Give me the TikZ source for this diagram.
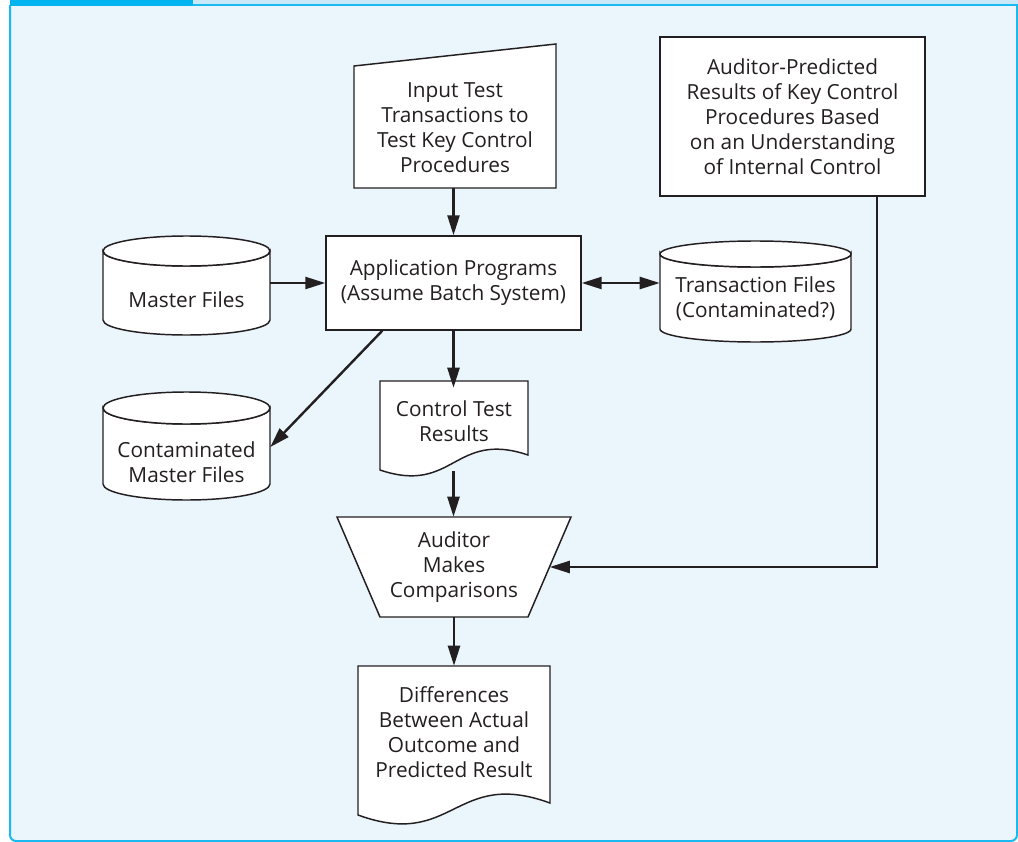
\documentclass[tikz,border=0pt]{standalone}
\usepackage{fontspec}
\setmainfont{Open Sans}
\usetikzlibrary{arrows.meta,calc}
\definecolor{ink}{HTML}{231F20}
\definecolor{bgfill}{HTML}{EAF5FC}
\definecolor{framec}{HTML}{1AB9F0}
\definecolor{tabc}{HTML}{00B4F0}
\definecolor{stripc}{HTML}{C9E9F8}
\newcommand\drawcyl[5]{% x1, x2, top-centre y, bottom-centre y, ry (px)
  \pgfmathsetmacro\cylrx{(#2-#1)/2*0.75}%
  \pgfmathsetmacro\cylry{#5*0.75}%
  \pgfmathsetmacro\cylxc{(#1+#2)/2}%
  \draw[shapeline] (#1,#3) -- (#1,#4) arc[start angle=180,end angle=360,x radius=\cylrx pt,y radius=\cylry pt] -- (#2,#3) arc[start angle=0,end angle=-180,x radius=\cylrx pt,y radius=\cylry pt] -- cycle;
  \draw[shapeline] (\cylxc,#3) ellipse[x radius=\cylrx pt,y radius=\cylry pt];
}
\begin{document}
\begin{tikzpicture}[x=0.75pt,y=-0.75pt,
  shapeline/.style={draw=ink,line width=1.1pt,fill=white},
  txt/.style={align=center,text=ink,font=\fontsize{15.6pt}{18.75pt}\selectfont,inner sep=0pt},
  boxnode/.style={txt,shapeline},
  conn/.style={draw=ink,line width=1.8pt,-{Triangle[length=15pt,width=9pt]}},
  dconn/.style={draw=ink,line width=1.8pt,{Triangle[length=15pt,width=9pt]}-{Triangle[length=15pt,width=9pt]}}]
\useasboundingbox (0,0) rectangle (1018,842);
% frame
\fill[bgfill,rounded corners=4.5pt] (10,0) -- (10,841) -- (1017,841) -- (1017,0) -- cycle;
\draw[framec,line width=1.5pt,rounded corners=4.5pt] (10,5) -- (10,841) -- (1017,841) -- (1017,5);
\fill[stripc] (193,0) rectangle (1018,4);
\draw[framec,line width=1.5pt] (10,5) -- (1018,5);
\fill[tabc] (10,0) rectangle (193,6);
% shapes
\draw[shapeline] (354,66) -- (556,44) -- (556,188) -- (354,188) -- cycle;
\drawcyl{103}{270}{251}{320}{15}
\drawcyl{660}{851}{254}{329}{13}
\drawcyl{103}{270}{408}{484}{16}
\draw[shapeline] (380,381) -- (528,381) -- (528,455) .. controls (454,430) and (454,495) .. (380,470) -- cycle;
\draw[shapeline] (337,517) -- (571,517) -- (528,617) -- (380,617) -- cycle;
\draw[shapeline] (358,666) -- (550,666) -- (550,803) .. controls (454,768) and (454,850) .. (358,815) -- cycle;
% nodes
\node[txt,minimum width=151.5pt,minimum height=90.75pt] (input) at (455,127.5) {Input Test\\Transactions to\\Test Key Control\\Procedures};
\node[boxnode,minimum width=191.25pt,minimum height=70.5pt] (app) at (453.5,283) {Application Programs\\(Assume Batch System)};
\node[boxnode,minimum width=198.75pt,minimum height=119.25pt] (pred) at (792.5,116.5) {Auditor-Predicted\\Results of Key Control\\Procedures Based\\on an Understanding\\of Internal Control};
\node[txt,minimum width=125.25pt] (master) at (186.5,300) {Master Files};
\node[txt,minimum width=143.25pt] (trans) at (755.5,299) {Transaction Files\\(Contaminated?)};
\node[txt,minimum width=125.25pt] (cmf) at (186.5,462.5) {Contaminated\\Master Files};
\node[txt,minimum width=111pt,minimum height=50.25pt] (ctr) at (454,421.5) {Control Test\\Results};
\node[txt,minimum width=143.25pt,minimum height=75pt] (trap) at (454,567) {Auditor\\Makes\\Comparisons};
\node[txt,minimum width=144pt,minimum height=99.75pt] (diff) at (454,732.5) {Differences\\Between Actual\\Outcome and\\Predicted Result};
% connectors
\draw[conn] (app.north |- input.south) -- (app.north);
\draw[conn] (master.east |- app.west) -- (app.west);
\draw[dconn] (app.east) -- (app.east -| trans.west);
\draw[conn] ([xshift=42.75pt]app.south west) -- ([yshift=11.6pt]cmf.east);
\draw[conn] (app.south) -- (app.south |- ctr.north);
\draw[conn] ([yshift=-12pt]ctr.south -| app.south) -- (app.south |- trap.north);
\draw[conn] (trap.south) -- (diff.north);
\draw[conn] ([xshift=-36.75pt]pred.south east) |- (trap.east);
\end{tikzpicture}
\end{document}
